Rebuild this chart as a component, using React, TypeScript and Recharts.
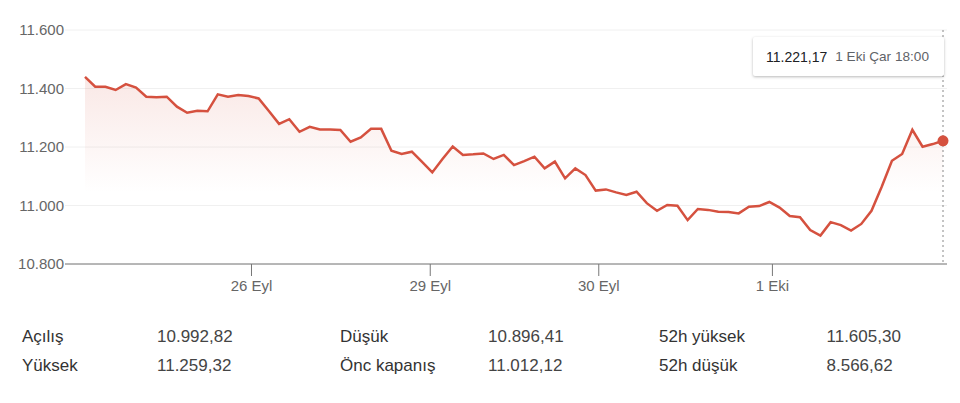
import {
  ComposedChart,
  Area,
  XAxis,
  YAxis,
  CartesianGrid,
  Tooltip
} from "recharts"

// half-hourly closes, 10:00 - 18:00, five sessions
const prices = [
  11440, 11406, 11406, 11395, 11415, 11403, 11372, 11370, 11372, 11338,
  11317, 11324, 11322, 11380, 11372, 11378, 11374, 11366, 11323, 11279,
  11295, 11252, 11269, 11260, 11260, 11258, 11218, 11233, 11262, 11262,
  11187, 11176, 11184, 11149, 11113, 11159, 11202, 11173, 11175, 11178,
  11159, 11173, 11138, 11152, 11167, 11127, 11150, 11093, 11127, 11104,
  11051, 11055, 11045, 11036, 11047, 11008, 10982, 11002, 10999, 10950,
  10988, 10985, 10979, 10978, 10973, 10996, 10998, 11012, 10993, 10964,
  10960, 10916, 10897, 10943, 10933, 10914, 10937, 10982, 11064, 11153,
  11176, 11259, 11201, 11210, 11221.17
]

const sessions = ["25 Eyl Per", "26 Eyl Cum", "29 Eyl Pzt", "30 Eyl Sal", "1 Eki Çar"]
const slotsPerSession = 17

const tickIndex = [16.3, 33.8, 50.3, 67.3]
const tickLabels = ["26 Eyl", "29 Eyl", "30 Eyl", "1 Eki"]
const yTicks = [10800, 11000, 11200, 11400, 11600]

const statLabels = [
  ["Açılış", "Yüksek"],
  ["Düşük", "Önc kapanış"],
  ["52h yüksek", "52h düşük"]
]
const statValues = [
  ["10.992,82", "11.259,32"],
  ["10.896,41", "11.012,12"],
  ["11.605,30", "8.566,62"]
]

const LINE = "#d5513f"
const FONT = '"Liberation Sans", Arial, Helvetica, sans-serif'

const fmtThousands = (v: number) =>
  String(Math.round(v)).replace(/\B(?=(\d{3})+(?!\d))/g, ".")

const fmtPrice = (v: number) => {
  const [i, d] = v.toFixed(2).split(".")
  return fmtThousands(Number(i)) + "," + d
}

const timeLabel = (i: number) => {
  const session = sessions[Math.floor(i / slotsPerSession)]
  const slot = i % slotsPerSession
  const h = 10 + Math.floor(slot / 2)
  const m = slot % 2 ? "30" : "00"
  return `${session} ${h}:${m}`
}

const data = prices.map((price, i) => ({ i, price, time: timeLabel(i) }))

interface TipProps {
  active?: boolean
  payload?: Array<{ payload: { price: number; time: string } }>
}

const PriceTip = ({ active, payload }: TipProps) => {
  if (!active || !payload?.[0]) return null
  const p = payload[0].payload
  return (
    <div
      style={{
        width: 191,
        height: 39,
        boxSizing: "border-box",
        background: "#fff",
        boxShadow: "0 1px 3px rgba(0,0,0,0.28)",
        borderRadius: 2,
        display: "flex",
        alignItems: "center",
        paddingLeft: 13,
        fontFamily: FONT,
        whiteSpace: "nowrap"
      }}
    >
      <span style={{ fontSize: 14, color: "#202124" }}>{fmtPrice(p.price)}</span>
      <span style={{ fontSize: 13.6, color: "#5f6368", marginLeft: 8 }}>{p.time}</span>
    </div>
  )
}

export default function App() {
  return (
    <div
      style={{
        position: "absolute",
        left: 0,
        top: 0,
        width: 960,
        height: 403,
        background: "#fff",
        fontFamily: FONT
      }}
    >
      <ComposedChart
        width={960}
        height={310}
        data={data}
        margin={{ top: 30, right: 13, bottom: 0, left: 0 }}
      >
        <defs>
          <linearGradient id="fade" x1="0" y1="0" x2="0" y2="1">
            <stop offset="0%" stopColor={LINE} stopOpacity={0.22} />
            <stop offset="62%" stopColor={LINE} stopOpacity={0} />
          </linearGradient>
        </defs>
        <CartesianGrid vertical={false} stroke="#f0f0f0" />
        <XAxis
          dataKey="i"
          type="number"
          domain={[0, prices.length - 1]}
          padding={{ left: 20, right: 4 }}
          ticks={tickIndex}
          tickFormatter={(v) => tickLabels[tickIndex.indexOf(v)] ?? ""}
          stroke="#777"
          tick={{ fill: "#666", fontSize: 15, fontFamily: FONT }}
          tickSize={12}
          tickMargin={4}
          height={46}
          interval={0}
        />
        <YAxis
          domain={[10800, 11600]}
          ticks={yTicks}
          tickFormatter={fmtThousands}
          axisLine={false}
          tickLine={false}
          tickSize={0}
          tickMargin={1}
          width={65}
          tick={{ fill: "#666", fontSize: 15, fontFamily: FONT }}
        />
        <Tooltip
          content={<PriceTip />}
          defaultIndex={prices.length - 1}
          position={{ x: 753, y: 37 }}
          cursor={{ stroke: "#888", strokeDasharray: "2 3", strokeWidth: 1 }}
          isAnimationActive={false}
        />
        <Area
          type="linear"
          dataKey="price"
          stroke={LINE}
          strokeWidth={2.5}
          fill="url(#fade)"
          baseValue={10800}
          dot={false}
          activeDot={{ r: 5.5, fill: LINE, stroke: "none" }}
          isAnimationActive={false}
        />
      </ComposedChart>
      {statLabels.map((col, c) =>
        col.map((label, r) => (
          <div key={`${c}-${r}`}>
            <div
              style={{
                position: "absolute",
                left: [22, 340, 659][c],
                top: 328 + r * 28.7,
                fontSize: 17,
                lineHeight: "18px",
                color: "#333"
              }}
            >
              {label}
            </div>
            <div
              style={{
                position: "absolute",
                left: [157, 488, 826.5][c],
                top: 328 + r * 28.7,
                fontSize: 17,
                lineHeight: "18px",
                color: "#444"
              }}
            >
              {statValues[c][r]}
            </div>
          </div>
        ))
      )}
    </div>
  )
}
